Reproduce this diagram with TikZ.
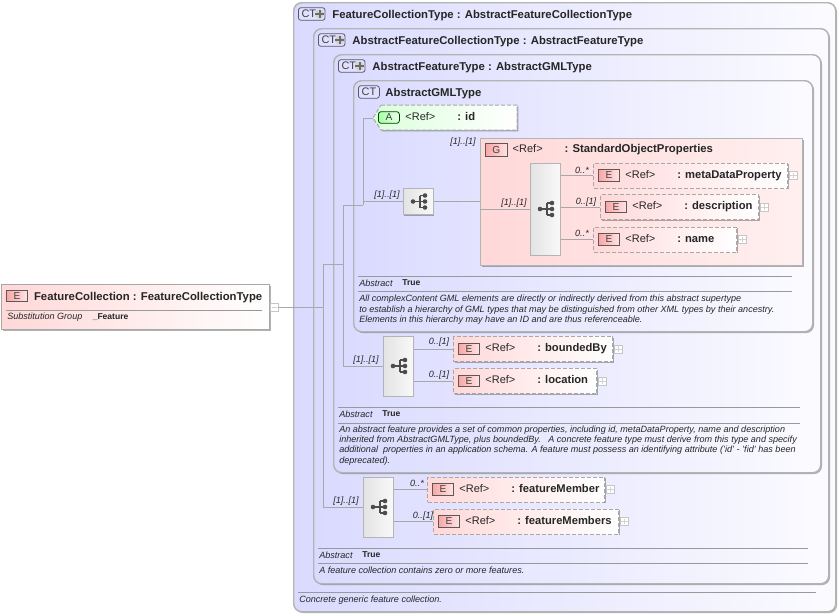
\documentclass[tikz,border=0pt]{standalone}
\usepackage{fontspec}
\setmainfont{Liberation Sans}
\usetikzlibrary{positioning,shapes,shadows,calc}
\definecolor{linegray}{HTML}{A8A8A8}
\definecolor{edgegray}{HTML}{B4B4B4}
\definecolor{lavender}{HTML}{DADAFF}
\definecolor{paleblue}{HTML}{FBFBFF}
\definecolor{rose}{HTML}{FFD8D8}
\definecolor{badgered}{HTML}{FBA5A5}
\definecolor{badgepink}{HTML}{FFE4E4}
\newcommand{\smalltxt}{\fontsize{6.8}{7.7}\selectfont\itshape}
\tikzstyle{shadowed} = [drop shadow={shadow xshift=1pt,shadow yshift=-1pt,fill=black,opacity=0.3}]
\tikzstyle{typebox} = [rectangle, draw=edgegray, line width=1.1pt, rounded corners=6pt, %
   left color=lavender, right color=paleblue, anchor=north west, inner sep=0, shadowed]
\tikzstyle{groupbox} = [rectangle, draw=edgegray, line width=1pt, left color=rose, %
   right color=rose!40, anchor=north west, inner sep=0, shadowed]
\tikzstyle{elem} = [rectangle, draw=linegray, line width=.75pt, dash pattern=on 3pt off 1.5pt, %
   left color=rose, right color=white, anchor=west, inner sep=0, minimum height=18.75pt, shadowed]
\tikzstyle{seqblock} = [rectangle, draw=edgegray, line width=.75pt, left color=gray!22, %
   right color=gray!5, inner sep=0, minimum width=22.5pt, shadowed]
\tikzstyle{badge} = [rectangle, draw=gray!70!black, line width=.6pt, left color=badgered, %
   right color=badgepink, anchor=west, inner sep=0, minimum width=15.75pt, minimum height=8.75pt, %
   font=\fontsize{7.6}{9}\selectfont, text=black!75]
\tikzstyle{ctbadge} = [rectangle, draw=black!60!lavender, line width=.6pt, rounded corners=2pt, fill=lavender!80!white, %
   inner sep=0, minimum height=9.5pt, text depth=0pt, font=\fontsize{8.2}{9}\selectfont, text=black!75]
\tikzstyle{ctplus} = [circle, fill=gray!35, inner sep=0, minimum size=7pt, %
   path picture={\draw[gray!85!black, line width=1.5pt, shorten >=.5pt, shorten <=.5pt]
   (path picture bounding box.west) -- (path picture bounding box.east)
   (path picture bounding box.north) -- (path picture bounding box.south);}]
\tikzstyle{title} = [anchor=west, inner sep=0, text height=7.2pt, text depth=1pt, text=black!85, %
   font=\fontsize{8.5}{10}\selectfont\bfseries]
\tikzstyle{elemname} = [anchor=west, inner sep=0, text height=6pt, text depth=1.6pt, text=black!85, %
   font=\fontsize{8.4}{10}\selectfont\bfseries]
\tikzstyle{reftext} = [elemname, text width=38.5pt, align=left, font=\fontsize{8.25}{10}\selectfont]
\tikzstyle{mult} = [inner sep=0, font=\smalltxt, text=black!85]
\tikzstyle{note} = [anchor=north west, inner sep=0, align=left, font=\smalltxt, text=black!85]
\tikzstyle{key} = [anchor=west, inner sep=0, text height=5.5pt, text depth=1.5pt, font=\smalltxt, text=black!85]
\tikzstyle{val} = [anchor=west, inner sep=0, text height=5.5pt, text depth=1.5pt, text=black!85, %
   font=\fontsize{6.4}{8}\selectfont\bfseries]
\tikzstyle{rule} = [draw=gray!80, line width=.7pt]
\tikzstyle{line} = [draw=linegray, line width=.75pt]
\tikzstyle{expand} = [rectangle, draw=gray!45, line width=.5pt, fill=white, inner sep=0, minimum size=5.8pt, anchor=west, %
   path picture={\draw[gray!35, line width=.5pt, shorten >=1pt, shorten <=1pt]
   (path picture bounding box.west) -- (path picture bounding box.east)
   (path picture bounding box.north) -- (path picture bounding box.south);}]
\tikzstyle{collapse} = [rectangle, draw=gray!45, line width=.5pt, fill=white, inner sep=0, minimum size=5.8pt, anchor=west, %
   path picture={\draw[gray!35, line width=.5pt, shorten >=1pt, shorten <=1pt]
   (path picture bounding box.west) -- (path picture bounding box.east);}]
\tikzset{seqicon/.pic={
   \draw[black!70, line width=.85pt] (-5,0) -- (2,0) (2,-6) -- (2,6) (2,-6) -- (7,-6) (2,0) -- (7,0) (2,6) -- (7,6);
   \fill[black!70] (-5,0) circle (2.3) (7,-6) circle (2.3) (7,0) circle (2.3) (7,6) circle (2.3);
}}

\begin{document}
\begin{tikzpicture}[x=0.75pt,y=-0.75pt]
   \useasboundingbox (0,0) rectangle (840,615);

   % TYPE BOXES %%%%%%%%%%%%%%%%%%%%%%%%%%%%%%%%%%%%%%%%%%%%%%%%%%%%%%
   \node[typebox, minimum width=406.5pt, minimum height=456.75pt](type1) at (293,2){};
   \node[typebox, minimum width=386.25pt, minimum height=416.25pt](type2) at (313,28){};
   \node[typebox, minimum width=365.25pt, minimum height=313.5pt](type3) at (333,54){};
   \node[typebox, minimum width=344.25pt, minimum height=188.25pt](type4) at (353,80){};

   \node[ctbadge, anchor=west, minimum width=20pt, text width=18pt, align=left](ct1) at (298,14){\,CT};
   \node[ctplus](plus1) at (319.5,14){};
   \node[title, right=5pt of ct1](title1){FeatureCollectionType : AbstractFeatureCollectionType};
   \node[ctbadge, anchor=west, minimum width=20pt, text width=18pt, align=left](ct2) at (318,40){\,CT};
   \node[ctplus](plus2) at (339.5,40){};
   \node[title, right=5pt of ct2](title2){AbstractFeatureCollectionType : AbstractFeatureType};
   \node[ctbadge, anchor=west, minimum width=20pt, text width=18pt, align=left](ct3) at (338,66){\,CT};
   \node[ctplus](plus3) at (359.5,66){};
   \node[title, right=5pt of ct3](title3){AbstractFeatureType : AbstractGMLType};
   \node[ctbadge, anchor=west, minimum width=15.75pt](ct4) at (358,92){CT};
   \node[title, right=4pt of ct4](title4){AbstractGMLType};

   % MAIN ELEMENT %%%%%%%%%%%%%%%%%%%%%%%%%%%%%%%%%%%%%%%%%%%%%%%%%%%%
   \node[elem, dash pattern=on 1pt off 0pt, minimum width=201pt, minimum height=34pt, anchor=north west](main) at (1,284){};
   \node[badge](mainE) at (6,296){E};
   \node[title, right=4.5pt of mainE](mainname){FeatureCollection : FeatureCollectionType};
   \draw[rule] (6,310) -- (262,310);
   \node[key](subst) at (7,317){Substitution Group};
   \node[val](substval) at (92.5,317){\_Feature};
   \node[collapse](collapse) at (270,307){};

   % ATTRIBUTE %%%%%%%%%%%%%%%%%%%%%%%%%%%%%%%%%%%%%%%%%%%%%%%%%%%%%%%
   \shade[draw=linegray, line width=.75pt, dash pattern=on 3pt off 1.5pt, left color=green!14, right color=white, shadowed]
      (381,105) -- (517,105) -- (517,130) -- (381,130) -- (373,118) -- cycle;
   \coordinate (idattr) at (373,118);
   \node[badge, rounded corners=2pt, left color=green!35!white, right color=green!8, draw=green!25!black](idA) at (378,117.5){A};
   \node[reftext, right=4pt of idA](idref){<Ref>};
   \node[elemname, right=0pt of idref](idname){: id};

   % SEQUENCE BLOCKS %%%%%%%%%%%%%%%%%%%%%%%%%%%%%%%%%%%%%%%%%%%%%%%%%
   \node[seqblock, minimum height=20pt](seq1) at (418,201.5){};
   \node[groupbox, minimum width=241.5pt, minimum height=95.25pt](props) at (480,138){};
   \node[seqblock, minimum height=69pt](seq2) at (545,209){};
   \node[seqblock, minimum height=45pt](seq3) at (398,366){};
   \node[seqblock, minimum height=45pt](seq4) at (378,507){};
   \pic at (seq1) {seqicon};
   \pic at (seq2) {seqicon};
   \pic at (seq3) {seqicon};
   \pic at (seq4) {seqicon};

   \node[badge, minimum width=16.5pt, minimum height=9.5pt](propsG) at (485,150){G};
   \node[reftext, right=3.5pt of propsG](propsref){<Ref>};
   \node[elemname, right=0pt of propsref, font=\fontsize{8.5}{10}\selectfont\bfseries](propsname){: StandardObjectProperties};

   % ELEMENTS %%%%%%%%%%%%%%%%%%%%%%%%%%%%%%%%%%%%%%%%%%%%%%%%%%%%%%%%
   \node[elem, minimum width=145.5pt](meta) at (593,175.5){};
   \node[badge, right=3.75pt of meta.west](metaE){E};
   \node[reftext, right=4pt of metaE](metaref){<Ref>};
   \node[elemname, right=0pt of metaref](metaname){: metaDataProperty};
   \node[expand, right=0.75pt of meta.east](metaplus){};

   \node[elem, minimum width=118.5pt](desc) at (600,207){};
   \node[badge, right=3.75pt of desc.west](descE){E};
   \node[reftext, right=4pt of descE](descref){<Ref>};
   \node[elemname, right=0pt of descref](descname){: description};
   \node[expand, right=0.75pt of desc.east](descplus){};

   \node[elem, minimum width=107.25pt](name) at (593,239.5){};
   \node[badge, right=3.75pt of name.west](nameE){E};
   \node[reftext, right=4pt of nameE](nameref){<Ref>};
   \node[elemname, right=0pt of nameref](namename){: name};
   \node[expand, right=0.75pt of name.east](nameplus){};

   \node[elem, minimum width=119.25pt](bounded) at (453,349){};
   \node[badge, right=3.75pt of bounded.west](boundedE){E};
   \node[reftext, right=4pt of boundedE](boundedref){<Ref>};
   \node[elemname, right=0pt of boundedref](boundedname){: boundedBy};
   \node[expand, right=0.75pt of bounded.east](boundedplus){};

   \node[elem, minimum width=107.25pt](location) at (453,381){};
   \node[badge, right=3.75pt of location.west](locationE){E};
   \node[reftext, right=4pt of locationE](locationref){<Ref>};
   \node[elemname, right=0pt of locationref](locationname){: location};
   \node[expand, right=0.75pt of location.east](locationplus){};

   \node[elem, minimum width=132.75pt](member) at (427,489.5){};
   \node[badge, right=3.75pt of member.west](memberE){E};
   \node[reftext, right=4pt of memberE](memberref){<Ref>};
   \node[elemname, right=0pt of memberref](membername){: featureMember};
   \node[expand, right=0.75pt of member.east](memberplus){};

   \node[elem, minimum width=138.75pt](members) at (433,521.5){};
   \node[badge, right=3.75pt of members.west](membersE){E};
   \node[reftext, right=4pt of membersE](membersref){<Ref>};
   \node[elemname, right=0pt of membersref](membersname){: featureMembers};
   \node[expand, right=0.75pt of members.east](membersplus){};

   % MULTIPLICITIES %%%%%%%%%%%%%%%%%%%%%%%%%%%%%%%%%%%%%%%%%%%%%%%%%%
   \node[mult](m1) at (463,142){[1]..[1]};
   \node[mult](m2) at (387,195){[1]..[1]};
   \node[mult](m3) at (514,203){[1]..[1]};
   \node[mult](m4) at (582,170){0..*};
   \node[mult](m5) at (586,202){0..[1]};
   \node[mult](m6) at (582,233){0..*};
   \node[mult](m7) at (366,360){[1]..[1]};
   \node[mult](m8) at (439,342){0..[1]};
   \node[mult](m9) at (439,375){0..[1]};
   \node[mult](m10) at (346,501){[1]..[1]};
   \node[mult](m11) at (417,483){0..*};
   \node[mult](m12) at (423,516){0..[1]};

   % NOTES %%%%%%%%%%%%%%%%%%%%%%%%%%%%%%%%%%%%%%%%%%%%%%%%%%%%%%%%%%%
   \draw[rule] (358,276.5) -- (792,276.5);
   \node[key](abs4) at (359,283.5){Abstract};
   \node[val](true4) at (402,283){True};
   \draw[rule] (358,291) -- (792,291);
   \node[note](note4) at (359,295){All complexContent GML elements are directly or indirectly derived from this abstract supertype\\
      to establish a hierarchy of GML types that may be distinguished from other XML types by their ancestry.\\
      Elements in this hierarchy may have an ID and are thus referenceable.};

   \draw[rule] (338,407) -- (800,407);
   \node[key](abs3) at (339,414.5){Abstract};
   \node[val](true3) at (382,414){True};
   \draw[rule] (338,423) -- (800,423);
   \node[note](note3) at (339,425.5){An abstract feature provides a set of common properties, including id, metaDataProperty, name and description\\
      inherited from AbstractGMLType, plus boundedBy.\ \ \ A concrete feature type must derive from this type and specify\\
      additional\ \ properties in an application schema. A feature must possess an identifying attribute ('id' - 'fid' has been\\
      deprecated).};

   \draw[rule] (318,548) -- (808,548);
   \node[key](abs2) at (319,555.5){Abstract};
   \node[val](true2) at (362,555){True};
   \draw[rule] (318,563) -- (808,563);
   \node[note](note2) at (319,567){A feature collection contains zero or more features.};

   \draw[rule] (298,592) -- (816,592);
   \node[note](note1) at (299,596){Concrete generic feature collection.};

   % Draw edges
   \coordinate (trunk) at (323,264);
   \coordinate (branch) at (343,264);
   \coordinate (fork) at (343,205);
   \coordinate (join) at (363,205);
   \path[line] (collapse.east) -- (collapse.east -| trunk);
   \path[line] (seq4.west) -| (trunk) -- (branch);
   \path[line] (seq3.west) -| (fork) -- (join);
   \path[line] (idattr) -| (join);
   \path[line] (seq1.west) -- (seq1.west -| join);
   \path[line] (seq1.east) -- (seq1.east -| props.west);
   \path[line] (props.west |- seq2.west) -- (seq2.west);
   \path[line] (seq2.east |- meta.west) -- (meta.west);
   \path[line] (seq2.east |- desc.west) -- (desc.west);
   \path[line] (seq2.east |- name.west) -- (name.west);
   \path[line] (seq3.east |- bounded.west) -- (bounded.west);
   \path[line] (seq3.east |- location.west) -- (location.west);
   \path[line] (seq4.east |- member.west) -- (member.west);
   \path[line] (seq4.east |- members.west) -- (members.west);
\end{tikzpicture}
\end{document}
